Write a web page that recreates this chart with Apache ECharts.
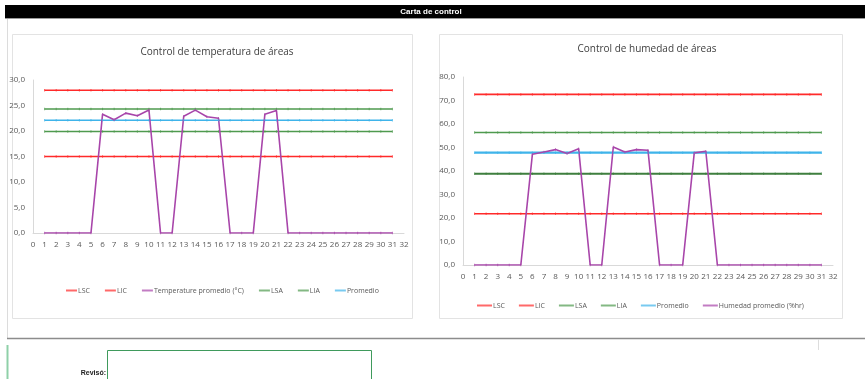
<!DOCTYPE html>
<html>
<head>
<meta charset="utf-8">
<script src="https://cdn.jsdelivr.net/npm/echarts@6/dist/echarts.min.js"></script>
<style>
  html, body { margin: 0; padding: 0; background: #ffffff; }
  #chart { width: 865px; height: 379px; }
</style>
</head>
<body>
<div id="chart"></div>
<script>
// Days of the month (x positions)
const days = [1,2,3,4,5,6,7,8,9,10,11,12,13,14,15,16,17,18,19,20,21,22,23,24,25,26,27,28,29,30,31];

// Temperature (°C) daily average and control limits
const tempPromedioDiario = [0,0,0,0,0,23.3,22.2,23.5,23.0,24.1,0,0,22.9,24.1,22.8,22.5,0,0,0,23.3,24.0,0,0,0,0,0,0,0,0,0,0];
const tempLSC = 28.0;
const tempLIC = 15.0;
const tempLSA = 24.3;
const tempLIA = 19.9;
const tempPromedio = 22.1;

// Humidity (%hr) daily average and control limits
const humPromedioDiario = [0,0,0,0,0,47.1,48.1,49.1,47.4,49.5,0,0,50.2,48.1,49.1,48.8,0,0,0,47.7,48.4,0,0,0,0,0,0,0,0,0,0];
const humLSC = 72.6;
const humLIC = 21.8;
const humLSA = 56.4;
const humLIA = 38.8;
const humPromedio = 47.8;

const RED = '#ff2a2a', PURPLE = '#a845aa', GREEN_A = '#4f9a4f', GREEN_B = '#3f7f3f', BLUE = '#3fb4ea';
const FONT = '"Open Sans", "Noto Sans", sans-serif';

const pairs = vals => days.map((d, i) => [d, vals[i]]);
const flat = v => days.map(d => [d, v]);
const comma = v => v.toFixed(1).replace('.', ',');

function lineSeries(name, data, color, idx, width) {
  return {
    name, type: 'line', data, xAxisIndex: idx, yAxisIndex: idx,
    symbol: 'rect', symbolSize: [1, 2.5], showSymbol: true,
    itemStyle: { color, opacity: 0.7 },
    lineStyle: { color, width: width || 1.6 },
    emphasis: { disabled: true }, animation: false
  };
}

function xAxis(idx) {
  return {
    type: 'value', gridIndex: idx, min: 0, max: 32, interval: 1,
    axisLine: { show: true, lineStyle: { color: '#d9d9d9', width: 1 } },
    axisTick: { show: false }, splitLine: { show: false },
    axisLabel: { color: '#595959', fontSize: 8, fontFamily: FONT, margin: 8 }
  };
}
function yAxis(idx, max, interval) {
  return {
    type: 'value', gridIndex: idx, min: 0, max, interval,
    axisLine: { show: true, lineStyle: { color: '#d9d9d9', width: 1 } },
    axisTick: { show: false }, splitLine: { show: false },
    axisLabel: { color: '#595959', fontSize: 8, fontFamily: FONT, margin: 8, formatter: comma }
  };
}
function legend(names, left, top, lineLen, gap) {
  return {
    data: names, left, top, orient: 'horizontal',
    icon: 'rect', itemWidth: lineLen, itemHeight: 2, itemGap: gap,
    textStyle: { color: '#595959', fontSize: 7, fontFamily: FONT, padding: [0, 0, 0, -4] },
    selectedMode: false
  };
}

const chart = echarts.init(document.getElementById('chart'), null, { renderer: 'canvas' });
chart.setOption({
  backgroundColor: '#ffffff',
  animation: false,
  title: [
    { text: 'Control de temperatura de áreas', left: 212, top: 42, textAlign: 'center',
      textStyle: { fontSize: 10, fontWeight: 'normal', color: '#404040', fontFamily: FONT } },
    { text: 'Control de humedad de áreas', left: 642, top: 39, textAlign: 'center',
      textStyle: { fontSize: 10, fontWeight: 'normal', color: '#404040', fontFamily: FONT } }
  ],
  grid: [
    { left: 33, top: 80, width: 371, height: 153, containLabel: false },
    { left: 463, top: 77, width: 370, height: 188, containLabel: false }
  ],
  xAxis: [xAxis(0), xAxis(1)],
  yAxis: [yAxis(0, 30, 5), yAxis(1, 80, 10)],
  legend: [
    legend(['LSC', 'LIC', 'Temperature promedio (°C)', 'LSA', 'LIA', 'Promedio'], 61, 282, 11, 15),
    legend(['LSC', 'LIC', 'LSA', 'LIA', 'Promedio', 'Humedad promedio (%hr)'], 472, 297, 15, 14)
  ],
  series: [
    lineSeries('LSC', flat(tempLSC), RED, 0),
    lineSeries('LIC', flat(tempLIC), RED, 0),
    lineSeries('LSA', flat(tempLSA), GREEN_A, 0),
    lineSeries('LIA', flat(tempLIA), GREEN_A, 0),
    lineSeries('Promedio', flat(tempPromedio), BLUE, 0),
    lineSeries('Temperature promedio (°C)', pairs(tempPromedioDiario), PURPLE, 0),
    lineSeries('LSC', flat(humLSC), RED, 1),
    lineSeries('LIC', flat(humLIC), RED, 1),
    lineSeries('LSA', flat(humLSA), GREEN_A, 1),
    lineSeries('LIA', flat(humLIA), GREEN_B, 1, 2),
    lineSeries('Promedio', flat(humPromedio), BLUE, 1, 2.2),
    lineSeries('Humedad promedio (%hr)', pairs(humPromedioDiario), PURPLE, 1)
  ],
  graphic: [
    // sheet header band
    { type: 'rect', z: -5, shape: { x: 5, y: 5, width: 860, height: 13 }, style: { fill: '#000000' } },
    { type: 'line', z: -5, shape: { x1: 5, y1: 18.5, x2: 865, y2: 18.5 }, style: { stroke: '#9a9a9a', lineWidth: 1 } },
    { type: 'text', z: 10, style: { text: 'Carta de control', x: 431, y: 12, align: 'center', verticalAlign: 'middle',
      fill: '#ffffff', font: 'bold 8px "Liberation Sans Narrow", "Liberation Sans", sans-serif' } },
    // sheet left edge
    { type: 'line', z: -5, shape: { x1: 7.5, y1: 19, x2: 7.5, y2: 338 }, style: { stroke: '#dcdcdc', lineWidth: 1 } },
    // chart panels
    { type: 'rect', z: -4, shape: { x: 12.5, y: 34.5, width: 400, height: 284 }, style: { fill: '#ffffff', stroke: '#e3e3e3', lineWidth: 1 } },
    { type: 'rect', z: -4, shape: { x: 439.5, y: 34.5, width: 403, height: 284 }, style: { fill: '#ffffff', stroke: '#e3e3e3', lineWidth: 1 } },
    // lower section
    { type: 'line', z: -5, shape: { x1: 7, y1: 338.5, x2: 865, y2: 338.5 }, style: { stroke: '#8c8c8c', lineWidth: 1.5 } },
    { type: 'line', z: -5, shape: { x1: 818.5, y1: 339, x2: 818.5, y2: 350 }, style: { stroke: '#dddddd', lineWidth: 1 } },
    { type: 'line', z: -5, shape: { x1: 7.5, y1: 345, x2: 7.5, y2: 379 }, style: { stroke: '#8fd0a8', lineWidth: 2 } },
    { type: 'rect', z: -5, shape: { x: 107.5, y: 350.5, width: 264, height: 40 }, style: { fill: 'none', stroke: '#3f9a5c', lineWidth: 1 } },
    { type: 'text', z: 10, style: { text: 'Revisó:', x: 106, y: 373, align: 'right', verticalAlign: 'middle',
      fill: '#222222', font: 'bold 7px "Liberation Sans Narrow", "Liberation Sans", sans-serif' } }
  ]
});
</script>
</body>
</html>
